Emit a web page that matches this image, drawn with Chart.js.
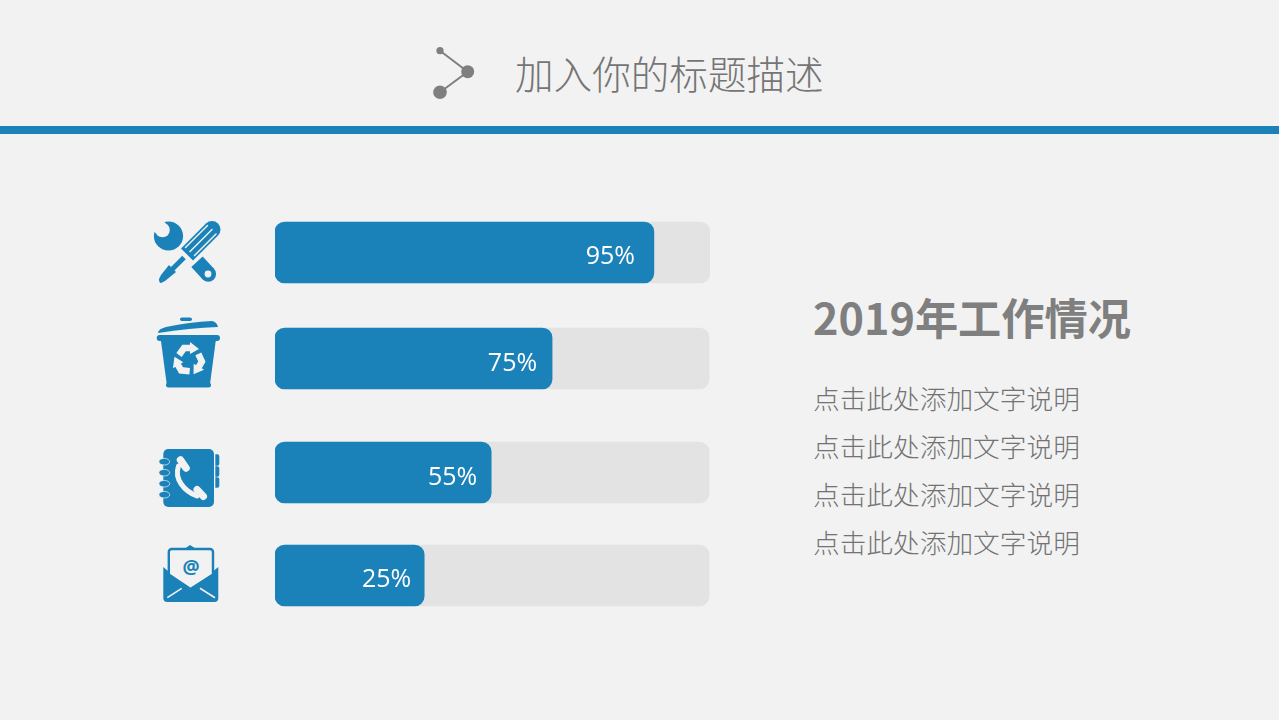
<!DOCTYPE html>
<html lang="zh">
<head>
<meta charset="utf-8">
<title>2019年工作情况</title>
<script src="https://cdn.jsdelivr.net/npm/chart.js@4/dist/chart.umd.min.js"></script>
<style>
  html, body { margin: 0; padding: 0; width: 1279px; height: 720px; overflow: hidden; background: #f2f2f2; }
  body { position: relative; font-family: "Noto Sans CJK SC", sans-serif; color: #7f7f7f; }
  #band { position: absolute; left: 0; top: 126px; width: 1279px; height: 8px; background: #1a82b9; }
  #title { position: absolute; left: 515px; top: 42px; font-size: 38.6px; line-height: 60px; white-space: nowrap; font-weight: 300; color: #757575; }
  #heading { position: absolute; left: 813px; top: 284px; font-size: 43.2px; line-height: 64px; font-weight: 700; white-space: nowrap; }
  .note { position: absolute; left: 813px; font-size: 26.7px; line-height: 40px; white-space: nowrap; font-weight: 300; color: #737373; }
  #icons { position: absolute; left: 0; top: 0; }
  #barChart { position: absolute; left: 275px; top: 200px; }
</style>
</head>
<body>
<div id="band"></div>
<div id="title">加入你的标题描述</div>
<div id="heading">2019年工作情况</div>
<div class="note" style="top:378px">点击此处添加文字说明</div>
<div class="note" style="top:426px">点击此处添加文字说明</div>
<div class="note" style="top:474px">点击此处添加文字说明</div>
<div class="note" style="top:522px">点击此处添加文字说明</div>

<svg id="icons" width="1279" height="720" viewBox="0 0 1279 720">
  <!-- title icon -->
  <g fill="#7f7f7f" stroke="#7f7f7f">
    <line x1="440" y1="50.7" x2="467.7" y2="71.7" stroke-width="2"/>
    <line x1="440" y1="92.3" x2="467.7" y2="71.7" stroke-width="2"/>
    <circle cx="440" cy="50.7" r="3.6" stroke="none"/>
    <circle cx="467.7" cy="71.7" r="6.5" stroke="none"/>
    <circle cx="440" cy="92.3" r="6.8" stroke="none"/>
  </g>

  <!-- tools -->
  <g fill="none" stroke-linecap="round">
    <circle cx="168.5" cy="236" r="14.6" fill="#1a82b9"/>
    <circle cx="162.5" cy="230" r="7.3" fill="#f2f2f2"/>
    <line x1="161" y1="228.5" x2="149" y2="216.5" stroke="#f2f2f2" stroke-width="14" stroke-linecap="butt"/>
    <line x1="197" y1="261.7" x2="208.3" y2="274" stroke="#1a82b9" stroke-width="15.5" stroke-linecap="butt"/>
    <circle cx="208.3" cy="274" r="7.8" fill="#1a82b9"/>
    <circle cx="208" cy="274" r="3.4" fill="#f2f2f2"/>
    <line x1="212" y1="229.5" x2="187" y2="254.5" stroke="#1a82b9" stroke-width="17" stroke-linecap="butt"/>
    <circle cx="212" cy="229.5" r="8.5" fill="#1a82b9"/>
    <line x1="212" y1="229.5" x2="190" y2="251.5" stroke="#f2f2f2" stroke-width="1.4"/>
    <line x1="207.5" y1="225.5" x2="185.5" y2="247.5" stroke="#f2f2f2" stroke-width="1.4"/>
    <line x1="216" y1="234" x2="194.5" y2="255.5" stroke="#f2f2f2" stroke-width="1.4"/>
    <line x1="184" y1="257.5" x2="171" y2="270.5" stroke="#1a82b9" stroke-width="5" stroke-linecap="butt"/>
    <path d="M169 265 L176 272 L165 281 L161 283 Q159 283 159 279 L161 275 Z" fill="#1a82b9"/>
  </g>

  <!-- recycle bin -->
  <g fill="#1a82b9">
    <path d="M158 333 Q158 329 166 327 Q190 322 212 321 Q217 322 218 327 Q190 328 158 333 Z"/>
    <rect x="180" y="317.5" width="12" height="3.6" rx="1.8"/>
    <rect x="156.7" y="335" width="63.3" height="6" rx="3"/>
    <path d="M160.7 339 L216 339 L210 384 L166.7 384 Z"/>
    <rect x="166" y="382.5" width="45" height="5" rx="2.5"/>
  </g>
  <g fill="none" stroke="#f2f2f2" stroke-width="6.5">
    <g id="recycleArrow">
      <path d="M179 355 L184 348 L191 348"/>
      <path d="M190 342 L199 349 L190 354 Z" fill="#f2f2f2" stroke="none"/>
    </g>
    <use href="#recycleArrow" transform="rotate(120 189 360)"/>
    <use href="#recycleArrow" transform="rotate(240 189 360)"/>
  </g>

  <!-- address book -->
  <g fill="#1a82b9">
    <rect x="163.3" y="449" width="50.7" height="58" rx="5"/>
    <g stroke="#f2f2f2" stroke-width="0.7">
      <ellipse cx="164.3" cy="461.7" rx="5.4" ry="3.3"/>
      <ellipse cx="164.3" cy="472.7" rx="5.4" ry="3.3"/>
      <ellipse cx="164.3" cy="483.7" rx="5.4" ry="3.3"/>
      <ellipse cx="164.3" cy="494.7" rx="5.4" ry="3.3"/>
    </g>
    <path d="M215.3 454.3 h2 a2 2 0 0 1 2 2 v7.5 a2 2 0 0 1 -2 2 h-2 Z"/>
    <path d="M215.3 466.2 h2 a2 2 0 0 1 2 2 v6.5 a2 2 0 0 1 -2 2 h-2 Z"/>
    <path d="M215.3 477.2 h2 a2 2 0 0 1 2 2 v6.5 a2 2 0 0 1 -2 2 h-2 Z"/>
  </g>
  <g fill="none" stroke="#f2f2f2" stroke-linecap="round">
    <path d="M178.5 466 C174 479 184 491 197 496" stroke-width="5"/>
    <line x1="180.5" y1="460" x2="186" y2="468" stroke-width="7.5"/>
    <line x1="197" y1="489.5" x2="203.5" y2="496.5" stroke-width="7"/>
  </g>

  <!-- mail -->
  <g>
    <path d="M163.3 567 L190 590 L218.3 567 V598 a4 4 0 0 1 -4 4 H167.3 a4 4 0 0 1 -4 -4 Z" fill="#1a82b9"/>
    <path d="M190 545 L183.5 549.5 H197 Z" fill="#1a82b9"/>
    <path d="M168.8 552 a3 3 0 0 1 3 -3 H210 a3 3 0 0 1 3 3 V574.5 L190.5 589 L168.8 574.5 Z" fill="#f2f2f2" stroke="#1a82b9" stroke-width="2.4"/>
    <line x1="167.3" y1="597.7" x2="181.7" y2="588.3" stroke="#f2f2f2" stroke-width="1.6"/>
    <line x1="200" y1="588.3" x2="215" y2="597.7" stroke="#f2f2f2" stroke-width="1.6"/>
    <text x="191" y="574" text-anchor="middle" font-family="Noto Sans" font-weight="700" font-size="19" fill="#1a82b9">@</text>
  </g>
</svg>

<canvas id="barChart" width="435" height="420"></canvas>

<script>
// -------------------- DATA --------------------
const percentLabels = ["95%", "75%", "55%", "25%"];
const fillValues = [87.1, 63.7, 49.7, 34.3];
const trackValues = [100, 99.8, 99.8, 99.8];

// -------------------- LAYOUT --------------------
const rowCenters = [52.5, 158.5, 272.5, 375.5];
const labelRightGap = [19, 15, 14, 13];
const labelDrop = [4.5, 5.5, 5.5, 4.5];
const BLUE = "#1a82b9";
const TRACK = "#e3e3e3";

// -------------------- PERCENT LABELS --------------------
const percentLabelPlugin = {
  id: "percentLabels",
  afterDatasetsDraw(chart) {
    const { ctx, scales } = chart;
    ctx.save();
    ctx.fillStyle = "#ffffff";
    ctx.font = '25px "Open Sans"';
    ctx.textAlign = "right";
    ctx.textBaseline = "middle";
    percentLabels.forEach((label, i) => {
      ctx.fillText(label,
        scales.x.getPixelForValue(fillValues[i]) - labelRightGap[i],
        scales.y.getPixelForValue(rowCenters[i]) + labelDrop[i]);
    });
    ctx.restore();
  }
};

// -------------------- CHART --------------------
const barShared = {
  barThickness: 61,
  borderRadius: 10,
  borderSkipped: false,
  grouped: false
};

new Chart(document.getElementById("barChart").getContext("2d"), {
  type: "bar",
  data: {
    datasets: [
      {
        ...barShared,
        label: "fill",
        order: 1,
        backgroundColor: BLUE,
        data: fillValues.map((v, i) => ({ x: v, y: rowCenters[i] }))
      },
      {
        ...barShared,
        label: "track",
        order: 2,
        backgroundColor: TRACK,
        data: trackValues.map((v, i) => ({ x: v, y: rowCenters[i] }))
      }
    ]
  },
  options: {
    indexAxis: "y",
    responsive: false,
    animation: false,
    layout: { padding: 0 },
    plugins: { legend: { display: false }, tooltip: { enabled: false } },
    scales: {
      x: { type: "linear", min: 0, max: 100, display: false },
      y: { type: "linear", min: 0, max: 420, reverse: true, offset: false, display: false }
    }
  },
  plugins: [percentLabelPlugin]
});
</script>
</body>
</html>
